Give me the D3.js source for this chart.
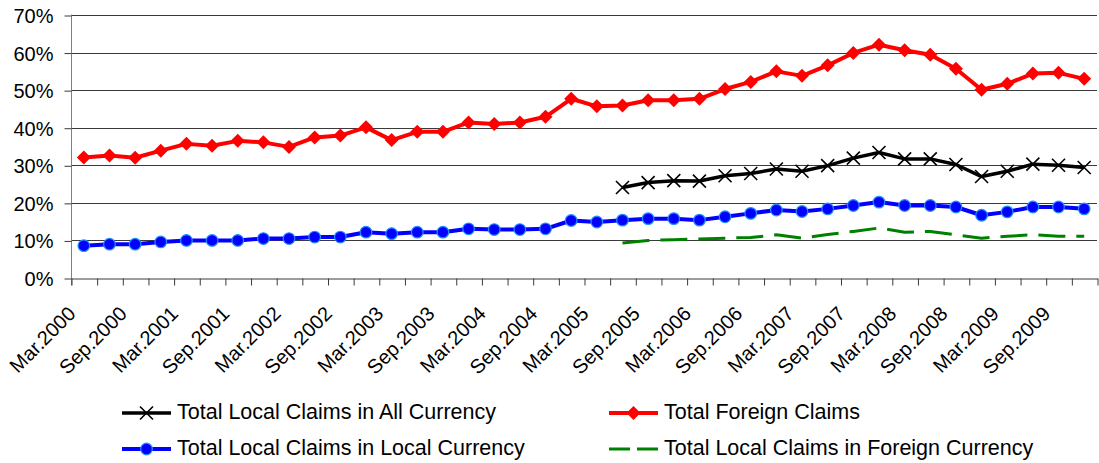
<!DOCTYPE html>
<html>
<head>
<meta charset="utf-8">
<script src="https://cdn.jsdelivr.net/npm/d3@7"></script>
<style>
    body { margin: 0; background: #fff; }
    text { font-family: "Liberation Sans", Arial, sans-serif; fill: #000; }
</style>
</head>
<body>
<div id="chart"></div>
<script>
'use strict';

// quarters, Mar.2000 .. Dec.2009
var quarters = [
    'Mar.2000', 'Jun.2000', 'Sep.2000', 'Dec.2000',
    'Mar.2001', 'Jun.2001', 'Sep.2001', 'Dec.2001',
    'Mar.2002', 'Jun.2002', 'Sep.2002', 'Dec.2002',
    'Mar.2003', 'Jun.2003', 'Sep.2003', 'Dec.2003',
    'Mar.2004', 'Jun.2004', 'Sep.2004', 'Dec.2004',
    'Mar.2005', 'Jun.2005', 'Sep.2005', 'Dec.2005',
    'Mar.2006', 'Jun.2006', 'Sep.2006', 'Dec.2006',
    'Mar.2007', 'Jun.2007', 'Sep.2007', 'Dec.2007',
    'Mar.2008', 'Jun.2008', 'Sep.2008', 'Dec.2008',
    'Mar.2009', 'Jun.2009', 'Sep.2009', 'Dec.2009'
];

// every other quarter gets a label
var tickLabels = quarters.filter(function (q, i) { return i % 2 === 0; });

var yTicks = [0, 0.1, 0.2, 0.3, 0.4, 0.5, 0.6, 0.7];

// values in percent
var foreignClaims = [
    32.1, 32.6, 32.0, 33.9, 35.7, 35.2, 36.5, 36.1, 34.9, 37.4,
    37.9, 40.1, 36.7, 38.9, 38.9, 41.4, 41.0, 41.4, 42.9, 47.7,
    45.7, 45.9, 47.3, 47.3, 47.7, 50.3, 52.2, 55.0, 53.8, 56.6,
    59.9, 62.1, 60.6, 59.4, 55.7, 50.1, 51.7, 54.4, 54.6, 53.0
];

var localAllCurrency = [
    null, null, null, null, null, null, null, null, null, null,
    null, null, null, null, null, null, null, null, null, null,
    null, 24.1, 25.4, 25.9, 25.8, 27.2, 27.8, 29.0, 28.4, 29.9,
    31.9, 33.4, 31.7, 31.7, 30.2, 27.0, 28.4, 30.3, 30.0, 29.4
];

var localLocalCurrency = [
    8.6, 9.0, 9.0, 9.6, 10.0, 10.0, 10.0, 10.5, 10.5, 10.9,
    10.9, 12.2, 11.8, 12.2, 12.2, 13.1, 12.9, 12.9, 13.1, 15.3,
    14.9, 15.4, 15.8, 15.8, 15.4, 16.3, 17.2, 18.1, 17.7, 18.4,
    19.3, 20.2, 19.3, 19.3, 18.9, 16.7, 17.6, 18.9, 18.9, 18.4
];

var localForeignCurrency = [
    null, null, null, null, null, null, null, null, null, null,
    null, null, null, null, null, null, null, null, null, null,
    null, 9.3, 10.0, 10.2, 10.4, 10.6, 10.8, 11.5, 10.6, 11.6,
    12.4, 13.3, 12.2, 12.4, 11.5, 10.6, 11.1, 11.5, 11.1, 11.1
];

(function () {
    var width = 1099, height = 463;
    var left = 71, right = 1097, plotTop = 15, bottom = 278;

    var svg = d3.select('#chart')
        .append('svg')
        .attr('width', width)
        .attr('height', height);

    var x = d3.scaleLinear().domain([0, quarters.length]).range([left, right]);
    var y = d3.scaleLinear().domain([0, 0.7]).range([bottom, plotTop]);

    function cx(i) { return x(i + 0.5); }

    // gridlines
    svg.append('g')
        .selectAll('line')
        .data(yTicks.slice(1))
        .enter()
        .append('line')
        .attr('x1', left)
        .attr('x2', right)
        .attr('y1', function (d) { return Math.round(y(d)) + 0.5; })
        .attr('y2', function (d) { return Math.round(y(d)) + 0.5; })
        .attr('stroke', '#3a3a3a')
        .attr('stroke-width', 1);

    // y axis
    var yAxis = svg.append('g')
        .attr('transform', 'translate(' + (left + 0.5) + ',0.5)')
        .call(d3.axisLeft(y)
            .tickValues(yTicks)
            .tickFormat(d3.format('.0%'))
            .tickSize(7)
            .tickSizeOuter(0)
            .tickPadding(11));
    yAxis.select('.domain').attr('stroke', '#808080').attr('d', 'M0,' + (plotTop - 1) + 'V' + (bottom + 7));
    yAxis.selectAll('.tick line').attr('stroke', '#3a3a3a');
    yAxis.selectAll('.tick text')
        .attr('font-size', 20)
        .attr('fill', '#000')
        .attr('dy', '0.35em');

    // x axis, ticks on category edges
    var xAxis = svg.append('g')
        .attr('transform', 'translate(0.5,' + (Math.round(bottom) + 0.5) + ')')
        .call(d3.axisBottom(x)
            .tickValues(d3.range(quarters.length + 1))
            .tickFormat('')
            .tickSize(7)
            .tickSizeOuter(0));
    xAxis.select('.domain').attr('stroke', '#3a3a3a');
    xAxis.selectAll('.tick line').attr('stroke', '#3a3a3a');

    svg.append('g')
        .selectAll('text')
        .data(tickLabels)
        .enter()
        .append('text')
        .attr('transform', function (d) {
            var i = quarters.indexOf(d);
            return 'translate(' + (cx(i) - 7) + ',315) rotate(-45)';
        })
        .attr('text-anchor', 'end')
        .attr('font-size', 20)
        .text(function (d) { return d; });

    // series
    var series = [
        { name: 'Total Local Claims in All Currency', values: localAllCurrency, color: '#000000', width: 3.5, marker: 'x' },
        { name: 'Total Foreign Claims', values: foreignClaims, color: '#ff0000', width: 4, marker: 'diamond' },
        { name: 'Total Local Claims in Local Currency', values: localLocalCurrency, color: '#0000ff', width: 4, marker: 'circle' },
        { name: 'Total Local Claims in Foreign Currency', values: localForeignCurrency, color: '#008000', width: 3, marker: 'none', dash: '27,11' }
    ];

    var line = d3.line()
        .defined(function (d) { return d !== null; })
        .x(function (d, i) { return cx(i); })
        .y(function (d) { return y(d / 100); });

    function drawMarker(g, type, color) {
        if (type === 'diamond') {
            g.append('path')
                .attr('d', 'M0,-7L7,0L0,7L-7,0Z')
                .attr('fill', color);
        } else if (type === 'circle') {
            g.append('circle')
                .attr('r', 5.8)
                .attr('fill', '#0000ff')
                .attr('stroke', '#1e90ff')
                .attr('stroke-width', 1.2);
        } else if (type === 'x') {
            g.append('path')
                .attr('d', 'M-6.5,-6.5L6.5,6.5M-6.5,6.5L6.5,-6.5')
                .attr('stroke', color)
                .attr('stroke-width', 1.6)
                .attr('fill', 'none');
        }
    }

    // draw order: green, blue, black, red
    [3, 2, 0, 1].forEach(function (k) {
        var s = series[k];
        var g = svg.append('g');
        g.append('path')
            .datum(s.values)
            .attr('d', line)
            .attr('fill', 'none')
            .attr('stroke', s.color)
            .attr('stroke-width', s.width)
            .attr('stroke-linejoin', 'round')
            .attr('stroke-dasharray', s.dash || null);
        if (s.marker !== 'none') {
            s.values.forEach(function (v, i) {
                if (v === null) return;
                var m = g.append('g').attr('transform', 'translate(' + cx(i) + ',' + y(v / 100) + ')');
                drawMarker(m, s.marker, s.color);
            });
        }
    });

    // legend
    var legendPos = [
        { x: 122, y: 413 },
        { x: 609, y: 413 },
        { x: 122, y: 449 },
        { x: 609, y: 449 }
    ];

    series.forEach(function (s, k) {
        var p = legendPos[k];
        var g = svg.append('g').attr('transform', 'translate(' + p.x + ',' + p.y + ')');
        g.append('line')
            .attr('x1', 0)
            .attr('x2', 49)
            .attr('stroke', s.color)
            .attr('stroke-width', s.width)
            .attr('stroke-dasharray', s.dash ? '21,7' : null);
        if (s.marker !== 'none') {
            var m = g.append('g').attr('transform', 'translate(24.5,0)');
            drawMarker(m, s.marker, s.color);
        }
        g.append('text')
            .attr('x', 55)
            .attr('y', -2)
            .attr('dy', '0.35em')
            .attr('font-size', 21.5)
            .text(s.name);
    });
})();
</script>
</body>
</html>
